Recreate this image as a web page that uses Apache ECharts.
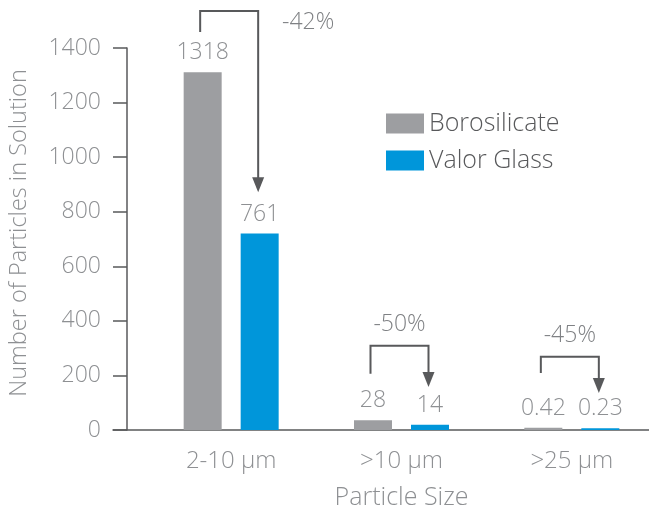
<!DOCTYPE html>
<html>
<head>
<meta charset="utf-8">
<script src="https://cdn.jsdelivr.net/npm/echarts@6/dist/echarts.min.js"></script>
<style>
html,body{margin:0;padding:0;background:#fff;}
#chart{width:649px;height:506px;}
</style>
</head>
<body>
<div id="chart"></div>
<script>
// Categories and values (bar heights; labels as printed)
const categories = ['2-10 µm', '>10 µm', '>25 µm'];
const borosilicate = [1311, 36, 8];
const valorGlass = [720, 19, 6];
const borosilicateLabels = ['1318', '28', '0.42'];
const valorGlassLabels = ['761', '14', '0.23'];
const reductionLabels = ['-42%', '-50%', '-45%'];
// bracket annotation levels (in axis units): start, top, arrow tip
const bracketStart = [1459, 206, 209];
const bracketTop = [1536, 309, 268];
const arrowTip = [871, 158, 136];
const yTicks = { min: 0, max: 1400, interval: 200 };

const FONT = '"Open Sans", "Noto Sans", sans-serif';
const LIGHT = '#8e9093';
const DARK = '#58595b';

const chart = echarts.init(document.getElementById('chart'), null, { renderer: 'canvas' });

const annData = categories.map((c, i) => [i, bracketStart[i], bracketTop[i], arrowTip[i]]);

const option = {
  animation: false,
  backgroundColor: '#fff',
  textStyle: { fontFamily: FONT, fontWeight: 300 },
  legend: {
    orient: 'vertical',
    left: 381,
    top: 106,
    itemWidth: 38,
    itemHeight: 20,
    itemGap: 12,
    icon: 'rect',
    data: ['Borosilicate', 'Valor Glass'],
    textStyle: { fontFamily: FONT, fontWeight: 300, fontSize: 25, color: DARK }
  },
  grid: [
    { left: 146, right: -8, top: 48, bottom: 76, containLabel: false, outerBoundsMode: 'none' },
    { left: 113, right: -8, top: 48, bottom: 76, containLabel: false, outerBoundsMode: 'none' }
  ],
  xAxis: [
    {
      type: 'category',
      gridIndex: 0,
      data: categories,
      axisLine: { show: false },
      axisTick: { show: false },
      axisLabel: { fontFamily: FONT, fontWeight: 300, fontSize: 24, color: LIGHT, margin: 19 },
      name: 'Particle Size',
      nameLocation: 'middle',
      nameGap: 55,
      nameTextStyle: { fontFamily: FONT, fontWeight: 300, fontSize: 25, color: LIGHT }
    },
    {
      type: 'value',
      gridIndex: 1,
      min: 0,
      max: 1,
      axisLine: { show: true, lineStyle: { color: DARK, width: 1.5 } },
      axisTick: { show: false },
      axisLabel: { show: false },
      splitLine: { show: false }
    }
  ],
  yAxis: [
    {
      type: 'value',
      gridIndex: 0,
      min: yTicks.min,
      max: yTicks.max,
      interval: yTicks.interval,
      offset: 19,
      axisLine: { show: true, lineStyle: { color: DARK, width: 1.5 } },
      axisTick: { show: true, length: 14, lineStyle: { color: DARK, width: 1.5 } },
      splitLine: { show: false },
      axisLabel: {
        fontFamily: FONT, fontWeight: 300, fontSize: 23, color: LIGHT, margin: 26, padding: [4, 0, 0, 0],
        formatter: v => String(v)
      },
      name: 'Number of Particles in Solution',
      nameLocation: 'middle',
      nameGap: 96,
      nameRotate: 90,
      nameTextStyle: { fontFamily: FONT, fontWeight: 300, fontSize: 23.5, color: LIGHT, padding: [0, 0, 0, 12] }
    },
    { type: 'value', gridIndex: 1, show: false, min: 0, max: 1 }
  ],
  series: [
    {
      name: 'Borosilicate',
      type: 'bar',
      xAxisIndex: 0,
      yAxisIndex: 0,
      data: borosilicate,
      barWidth: 38,
      barGap: '50%',
      itemStyle: { color: '#9d9ea1' },
      label: {
        show: true,
        position: 'top',
        distance: 8,
        fontFamily: FONT, fontWeight: 300, fontSize: 23, color: LIGHT,
        formatter: p => borosilicateLabels[p.dataIndex]
      }
    },
    {
      name: 'Valor Glass',
      type: 'bar',
      xAxisIndex: 0,
      yAxisIndex: 0,
      data: valorGlass,
      barWidth: 38,
      itemStyle: { color: '#0096da' },
      label: {
        show: true,
        position: 'top',
        distance: 8,
        fontFamily: FONT, fontWeight: 300, fontSize: 23, color: LIGHT,
        formatter: p => valorGlassLabels[p.dataIndex]
      }
    },
    {
      name: 'reduction',
      type: 'custom',
      xAxisIndex: 0,
      yAxisIndex: 0,
      clip: false,
      silent: true,
      z: 5,
      data: annData,
      renderItem: function (params, api) {
        const i = api.value(0);
        const c = api.coord([i, 0])[0];
        const yS = api.coord([i, api.value(1)])[1];
        const yT = api.coord([i, api.value(2)])[1];
        const yA = api.coord([i, api.value(3)])[1];
        const xl = c - 31, xr = c + 27;
        const ah = 15, aw = 12;
        const first = params.dataIndex === 0;
        const lx = first ? xr + 50 : (xl + xr) / 2;
        const ly = first ? yT + 12 : yT - 21;
        return {
          type: 'group',
          children: [
            {
              type: 'polyline',
              shape: { points: [[xl, yS], [xl, yT], [xr, yT], [xr, yA - ah + 1]] },
              style: { stroke: DARK, lineWidth: 2, fill: null }
            },
            {
              type: 'polygon',
              shape: { points: [[xr - aw / 2, yA - ah], [xr + aw / 2, yA - ah], [xr, yA]] },
              style: { fill: DARK }
            },
            {
              type: 'text',
              style: {
                text: reductionLabels[params.dataIndex],
                x: lx, y: ly,
                align: 'center', verticalAlign: 'middle',
                fontFamily: FONT, fontWeight: 300, fontSize: 23, fill: '#7f8184'
              }
            }
          ]
        };
      }
    }
  ]
};
chart.setOption(option);
</script>
</body>
</html>
